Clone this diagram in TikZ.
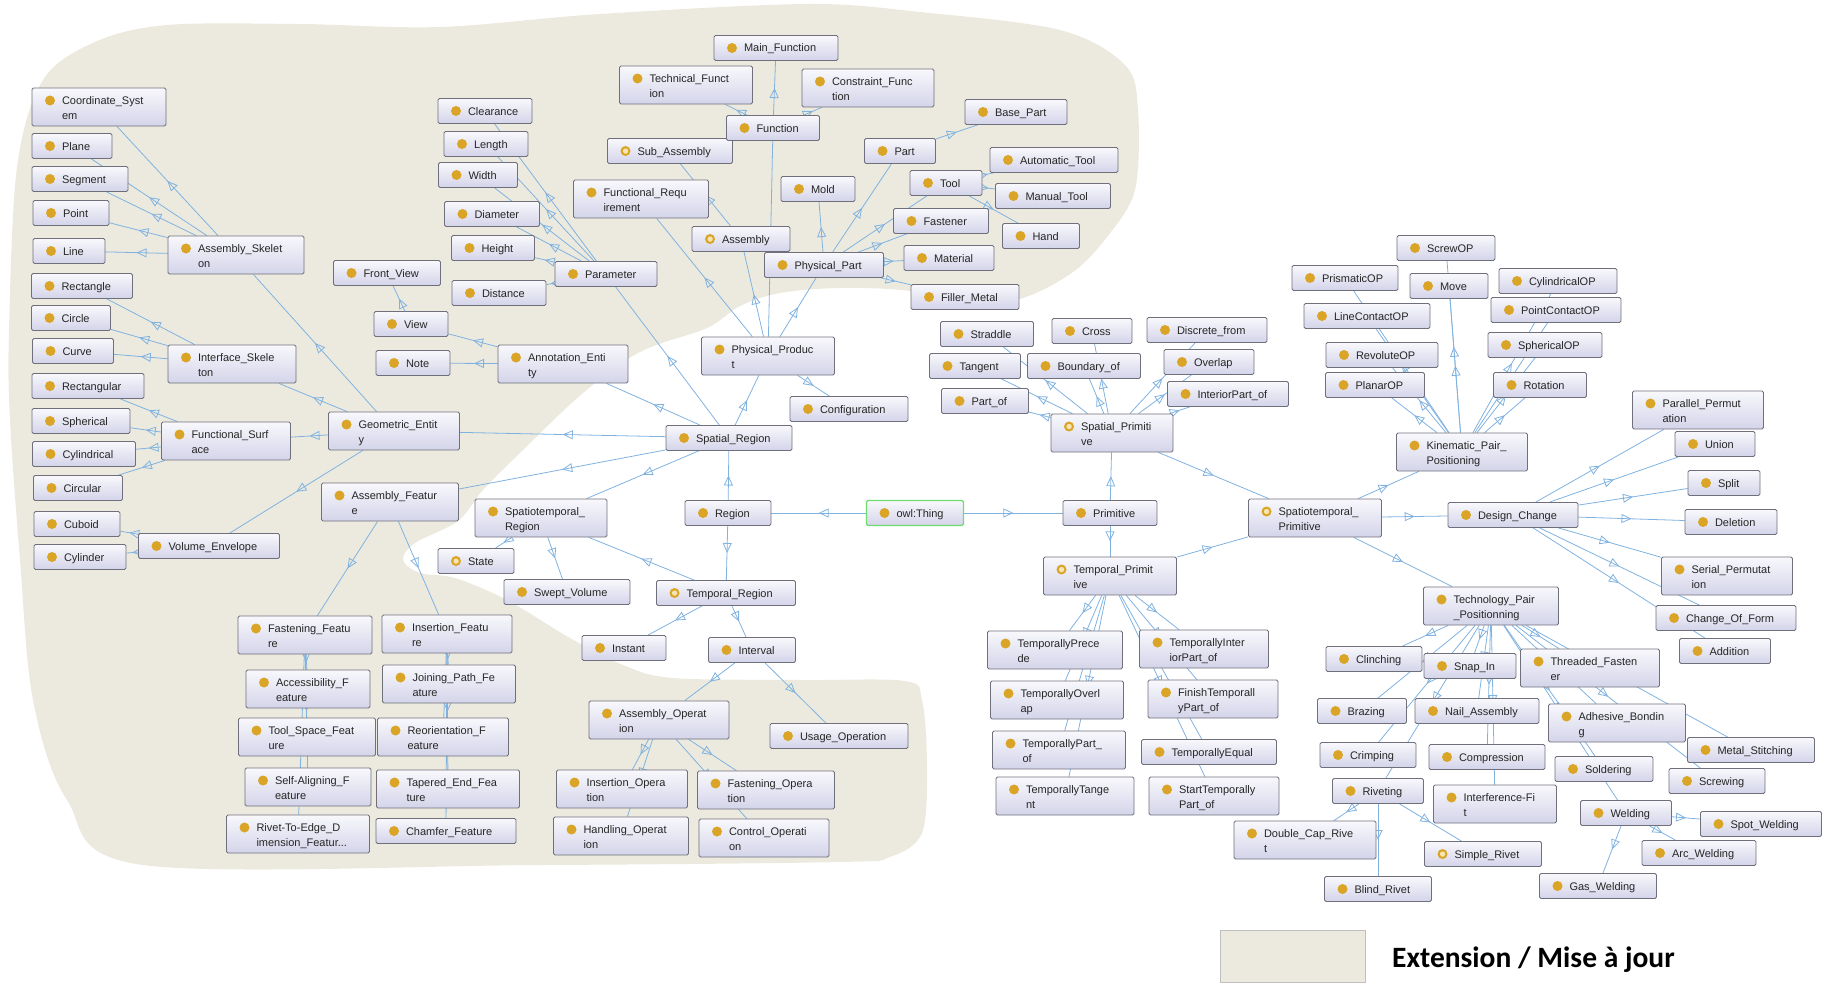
\documentclass[tikz,border=0pt]{standalone}
\usepackage{fontspec}
\setmainfont{Liberation Sans}
\newfontfamily\legendfont{Carlito}
\usetikzlibrary{arrows.meta, decorations.markings}
\definecolor{blob_beige}{RGB}{236,234,223}
\definecolor{box_top}{RGB}{248,248,252}
\definecolor{box_bot}{RGB}{212,212,234}
\definecolor{box_edge}{RGB}{112,112,124}
\definecolor{cls_dot}{RGB}{218,165,38}
\definecolor{cls_core}{RGB}{246,228,178}
\definecolor{isa_blue}{RGB}{128,178,224}
\definecolor{root_green}{RGB}{110,220,110}
\pgfdeclarelayer{blob}
\pgfdeclarelayer{links}
\pgfsetlayers{blob,links,main}

\begin{document}
\begin{tikzpicture}[x=1pt, y=-1pt, font=\fontsize{11}{14.5}\selectfont,
      cls/.style ={draw=box_edge, line width=0.8pt, rounded corners=1.5pt, top color=box_top, bottom color=box_bot,
                   text=black!85, align=left, inner xsep=0pt, inner ysep=0pt, text width=#1pt,
                   text height=12pt, text depth=4pt, minimum height=25pt,
                   execute at begin node={\leftskip=30pt\hyphenpenalty=10000\exhyphenpenalty=10000},
                   path picture={\fill[cls_dot] ([shift={(18pt,-12.5pt)}]path picture bounding box.north west) circle (5pt);}},
      dcls/.style={cls=#1,
                   path picture={\fill[cls_dot] ([shift={(18pt,-12.5pt)}]path picture bounding box.north west) circle (5pt);
                                 \fill[cls_core] ([shift={(15.5pt,-10pt)}]path picture bounding box.north west) rectangle ++(5pt,-5pt);}},
      root/.style={cls=#1, draw=root_green, line width=1.2pt},
      two/.style ={text depth=17pt, minimum height=38pt},
      isa/.style ={draw=isa_blue, line width=0.8pt,
                   postaction={decorate, decoration={markings,
                     mark=at position 0.5 with {\arrow[isa_blue, line width=0.8pt]{Triangle[open, length=10pt, width=9pt]}}}}}]
    \useasboundingbox (0,0) rectangle (1822,982);
    % --- the extended part of the ontology ---
    \begin{pgfonlayer}{blob}
      \fill[blob_beige] plot[smooth cycle, tension=0.55] coordinates {
        (167,25) (300,24) (440,27) (600,14) (807,4) (920,12) (1060,30) (1125,65) (1138,110) (1135,190)
        (1107,237) (1073,272) (1023,298) (965,306) (910,291) (840,288) (780,293) (740,306) (707,328)
        (640,352) (583,393) (523,450) (483,490) (458,521) (415,543) (403,560) (420,573) (455,578)
        (507,600) (570,638) (623,665) (673,678) (800,680) (905,681) (922,700) (927,767) (922,833)
        (890,857) (840,862) (540,865) (143,865) (67,800) (33,700) (20,560) (10,420) (9,330) (17,167)
        (43,80) (95,42)};
    \end{pgfonlayer}
    % --- root and top classes ---
    \node[root=97]  (owl)       at (915,513)  {owl:Thing};
    \node[cls=86]   (region)    at (728,513)  {Region};
    \node[cls=94]   (primitive) at (1110,513) {Primitive};
    \node[cls=126]  (spatreg)   at (729,438)  {Spatial\_Region};
    \node[dcls=139] (tempreg)   at (726,593)  {Temporal\_Region};
    \node[cls=132, two] (streg) at (541,518)  {Spatiotemporal\_\\Region};
    \node[dcls=76]  (state)     at (476,561)  {State};
    \node[cls=126]  (swept)     at (567,592)  {Swept\_Volume};
    \node[cls=84]   (instant)   at (624,648)  {Instant};
    \node[cls=87]   (interval)  at (752,650)  {Interval};
    % --- operations ---
    \node[cls=140, two] (asmop)  at (659,720) {Assembly\_Operat\\ion};
    \node[cls=138]      (usageop) at (839,736) {Usage\_Operation};
    \node[cls=131, two] (insop)  at (622,789) {Insertion\_Opera\\tion};
    \node[cls=137, two] (fastop) at (766,790) {Fastening\_Opera\\tion};
    \node[cls=135, two] (handop) at (621,836) {Handling\_Operat\\ion};
    \node[cls=130, two] (ctrlop) at (764,838) {Control\_Operati\\on};
    % --- product side ---
    \node[cls=133, two] (physprod) at (768,356) {Physical\_Produc\\t};
    \node[cls=118]  (config)    at (849,409)  {Configuration};
    \node[cls=135, two] (funcreq) at (641,199) {Functional\_Requ\\irement};
    \node[dcls=98]  (assembly)  at (741,239)  {Assembly};
    \node[dcls=125] (subasm)    at (670,151)  {Sub\_Assembly};
    \node[cls=93]   (function)  at (773,128)  {Function};
    \node[cls=124]  (mainfn)    at (776,48)   {Main\_Function};
    \node[cls=133, two] (techfn)   at (686,85) {Technical\_Funct\\ion};
    \node[cls=132, two] (constrfn) at (868,88) {Constraint\_Func\\tion};
    \node[cls=119]  (physpart)  at (824,265)  {Physical\_Part};
    \node[cls=74]   (mold)      at (818,189)  {Mold};
    \node[cls=71]   (part)      at (900,151)  {Part};
    \node[cls=102]  (basepart)  at (1016,112) {Base\_Part};
    \node[cls=72]   (tool)      at (946,183)  {Tool};
    \node[cls=128]  (autotool)  at (1054,160) {Automatic\_Tool};
    \node[cls=115]  (manualtool) at (1053,196) {Manual\_Tool};
    \node[cls=77]   (hand)      at (1041,236) {Hand};
    \node[cls=95]   (fastener)  at (941,221)  {Fastener};
    \node[cls=90]   (material)  at (949,258)  {Material};
    \node[cls=108]  (filler)    at (965,297)  {Filler\_Metal};
    % --- parameters and annotations ---
    \node[cls=102]  (parameter) at (606,274)  {Parameter};
    \node[cls=94]   (clearance) at (485,111)  {Clearance};
    \node[cls=84]   (length)    at (486,144)  {Length};
    \node[cls=79]   (width)     at (478,175)  {Width};
    \node[cls=95]   (diameter)  at (492,214)  {Diameter};
    \node[cls=83]   (height)    at (493,248)  {Height};
    \node[cls=94]   (distance)  at (499,293)  {Distance};
    \node[cls=130, two] (annot) at (563,364)  {Annotation\_Enti\\ty};
    \node[cls=107]  (frontview) at (387,273)  {Front\_View};
    \node[cls=74]   (view)      at (411,324)  {View};
    \node[cls=74]   (note)      at (413,363)  {Note};
    % --- geometry ---
    \node[cls=131, two] (geoent) at (394,431) {Geometric\_Entit\\y};
    \node[cls=136, two] (askel)  at (236,255) {Assembly\_Skelet\\on};
    \node[cls=128, two] (iskel)  at (232,364) {Interface\_Skele\\ton};
    \node[cls=129, two] (fsurf)  at (226,441) {Functional\_Surf\\ace};
    \node[cls=141]  (volenv)    at (209,546)  {Volume\_Envelope};
    \node[cls=134, two] (coord)  at (99,107)  {Coordinate\_Syst\\em};
    \node[cls=80]   (plane)     at (72,146)   {Plane};
    \node[cls=96]   (segment)   at (80,179)   {Segment};
    \node[cls=76]   (point)     at (71,213)   {Point};
    \node[cls=72]   (line)      at (69,251)   {Line};
    \node[cls=101]  (rectangle) at (82,286)   {Rectangle};
    \node[cls=79]   (circle)    at (71,318)   {Circle};
    \node[cls=81]   (curve)     at (73,351)   {Curve};
    \node[cls=112]  (rectangular) at (88,386) {Rectangular};
    \node[cls=98]   (spherical) at (81,421)   {Spherical};
    \node[cls=103]  (cylindrical) at (84,454) {Cylindrical};
    \node[cls=89]   (circular)  at (78,488)   {Circular};
    \node[cls=86]   (cuboid)    at (77,524)   {Cuboid};
    \node[cls=92]   (cylinder)  at (80,557)   {Cylinder};
    % --- assembly features ---
    \node[cls=137, two] (asmfeat)   at (390,502) {Assembly\_Featur\\e};
    \node[cls=134, two] (fastfeat)  at (305,635) {Fastening\_Featu\\re};
    \node[cls=130, two] (insfeat)   at (447,634) {Insertion\_Featu\\re};
    \node[cls=124, two] (access)    at (308,689) {Accessibility\_F\\eature};
    \node[cls=133, two] (joinpath)  at (449,684) {Joining\_Path\_Fe\\ature};
    \node[cls=137, two] (toolspace) at (307,737) {Tool\_Space\_Feat\\ure};
    \node[cls=131, two] (reorient)  at (443,737) {Reorientation\_F\\eature};
    \node[cls=126, two] (selfalign) at (308,787) {Self-Aligning\_F\\eature};
    \node[cls=143, two] (tapered)   at (448,789) {Tapered\_End\_Fea\\ture};
    \node[cls=143, two] (rivetedge) at (298,834) {Rivet-To-Edge\_D\\imension\_Featur...};
    \node[cls=140]      (chamfer)   at (446,831) {Chamfer\_Feature};
    % --- spatial primitives ---
    \node[dcls=122, two] (spatprim) at (1112,433) {Spatial\_Primiti\\ve};
    \node[cls=93]   (straddle)  at (987,334)  {Straddle};
    \node[cls=80]   (cross)     at (1092,331) {Cross};
    \node[cls=120]  (discrete)  at (1207,330) {Discrete\_from};
    \node[cls=91]   (tangent)   at (975,366)  {Tangent};
    \node[cls=113]  (boundary)  at (1084,366) {Boundary\_of};
    \node[cls=90]   (overlap)   at (1209,362) {Overlap};
    \node[cls=87]   (partof)    at (985,401)  {Part\_of};
    \node[cls=121]  (interior)  at (1228,394) {InteriorPart\_of};
    % --- temporal primitives ---
    \node[dcls=133, two] (tempprim) at (1110,576) {Temporal\_Primit\\ive};
    \node[cls=135, two] (tprecede)  at (1055,650) {TemporallyPrece\\de};
    \node[cls=129, two] (tinterior) at (1204,649) {TemporallyInter\\iorPart\_of};
    \node[cls=133, two] (toverlap)  at (1057,700) {TemporallyOverl\\ap};
    \node[cls=130, two] (tfinish)   at (1213,699) {FinishTemporall\\yPart\_of};
    \node[cls=133, two] (tpart)     at (1059,750) {TemporallyPart\_\\of};
    \node[cls=135]      (tequal)    at (1209,752) {TemporallyEqual};
    \node[cls=138, two] (ttangent)  at (1065,796) {TemporallyTange\\nt};
    \node[cls=130, two] (tstart)    at (1214,796) {StartTemporally\\Part\_of};
    % --- spatiotemporal primitives ---
    \node[dcls=133, two] (stprim)    at (1315,518) {Spatiotemporal\_\\Primitive};
    \node[cls=131, two]  (kinematic) at (1462,452) {Kinematic\_Pair\_\\Positioning};
    \node[cls=106]  (prismatic)   at (1345,278) {PrismaticOP};
    \node[cls=126]  (linecontact) at (1367,316) {LineContactOP};
    \node[cls=112]  (revolute)    at (1382,355) {RevoluteOP};
    \node[cls=99]   (planar)      at (1375,385) {PlanarOP};
    \node[cls=98]   (screwop)     at (1446,248) {ScrewOP};
    \node[cls=78]   (move)        at (1449,286) {Move};
    \node[cls=118]  (cylop)       at (1558,281) {CylindricalOP};
    \node[cls=130]  (pointcontact) at (1556,310) {PointContactOP};
    \node[cls=114]  (sphericalop) at (1545,345) {SphericalOP};
    \node[cls=93]   (rotation)    at (1540,385) {Rotation};
    \node[cls=130]  (designch)    at (1513,515) {Design\_Change};
    \node[cls=131, two] (parallel) at (1698,410) {Parallel\_Permut\\ation};
    \node[cls=80]   (union)       at (1715,444) {Union};
    \node[cls=72]   (split)       at (1724,483) {Split};
    \node[cls=92]   (deletion)    at (1731,522) {Deletion};
    \node[cls=131, two] (serial)  at (1727,576) {Serial\_Permutat\\ion};
    \node[cls=140]  (changeform)  at (1726,618) {Change\_Of\_Form};
    \node[cls=91]   (addition)    at (1725,651) {Addition};
    % --- technology pairs ---
    \node[cls=135, two] (techpair) at (1491,606) {Technology\_Pair\\\_Positionning};
    \node[cls=96]   (clinching)   at (1374,659) {Clinching};
    \node[cls=92]   (snapin)      at (1470,666) {Snap\_In};
    \node[cls=139, two] (threaded) at (1590,668) {Threaded\_Fasten\\er};
    \node[cls=89]   (brazing)     at (1362,711) {Brazing};
    \node[cls=124]  (nail)        at (1477,711) {Nail\_Assembly};
    \node[cls=137, two] (adhesive) at (1617,723) {Adhesive\_Bondin\\g};
    \node[cls=127]  (metalstitch) at (1751,750) {Metal\_Stitching};
    \node[cls=96]   (crimping)    at (1368,755) {Crimping};
    \node[cls=116]  (compression) at (1487,757) {Compression};
    \node[cls=98]   (soldering)   at (1604,769) {Soldering};
    \node[cls=96]   (screwing)    at (1717,781) {Screwing};
    \node[cls=91]   (riveting)    at (1378,791) {Riveting};
    \node[cls=123, two] (interfit) at (1495,804) {Interference-Fi\\t};
    \node[cls=91]   (welding)     at (1626,813) {Welding};
    \node[cls=121]  (spotweld)    at (1761,824) {Spot\_Welding};
    \node[cls=142, two] (doublecap) at (1305,840) {Double\_Cap\_Rive\\t};
    \node[cls=114]  (arcweld)     at (1699,853) {Arc\_Welding};
    \node[dcls=117] (simplerivet) at (1483,854) {Simple\_Rivet};
    \node[cls=107]  (blindrivet)  at (1378,889) {Blind\_Rivet};
    \node[cls=117]  (gasweld)     at (1598,886) {Gas\_Welding};
    % --- legend ---
    \node[draw=black!25, fill=blob_beige, minimum width=145pt, minimum height=52pt, inner sep=0pt] (legbox) at (1292.5,956) {};
    \node[font=\legendfont\bfseries\fontsize{29.5}{34}\selectfont, anchor=west, inner sep=0pt] (legtext) at (1392,960) {Extension / Mise à jour};
    % --- subclass links, parent to child ---
    \begin{pgfonlayer}{links}
      \draw[isa] (owl) -- (region);
      \draw[isa] (owl) -- (primitive);
      \draw[isa] (region) -- (spatreg);
      \draw[isa] (region) -- (tempreg);
      \draw[isa] (spatreg) -- (physprod);
      \draw[isa] (spatreg) -- (parameter);
      \draw[isa] (spatreg) -- (annot);
      \draw[isa] (spatreg) -- (geoent);
      \draw[isa] (spatreg) -- (asmfeat);
      \draw[isa] (spatreg) -- (streg);
      \draw[isa] (tempreg) -- (streg);
      \draw[isa] (streg) -- (state);
      \draw[isa] (streg) -- (swept);
      \draw[isa] (tempreg) -- (instant);
      \draw[isa] (tempreg) -- (interval);
      \draw[isa] (interval) -- (asmop);
      \draw[isa] (interval) -- (usageop);
      \draw[isa] (asmop) -- (insop);
      \draw[isa] (asmop) -- (handop);
      \draw[isa] (asmop) -- (fastop);
      \draw[isa] (asmop) -- (ctrlop);
      \draw[isa] (physprod) -- (config);
      \draw[isa] (physprod) -- (funcreq);
      \draw[isa] (physprod) -- (assembly);
      \draw[isa] (assembly) -- (subasm);
      \draw[isa] (physprod) -- (function);
      \draw[isa] (function) -- (mainfn);
      \draw[isa] (function) -- (techfn);
      \draw[isa] (function) -- (constrfn);
      \draw[isa] (physprod) -- (physpart);
      \draw[isa] (physpart) -- (mold);
      \draw[isa] (physpart) -- (part);
      \draw[isa] (physpart) -- (tool);
      \draw[isa] (physpart) -- (fastener);
      \draw[isa] (physpart) -- (material);
      \draw[isa] (physpart) -- (filler);
      \draw[isa] (part) -- (basepart);
      \draw[isa] (tool) -- (autotool);
      \draw[isa] (tool) -- (manualtool);
      \draw[isa] (tool) -- (hand);
      \draw[isa] (parameter) -- (clearance);
      \draw[isa] (parameter) -- (length);
      \draw[isa] (parameter) -- (width);
      \draw[isa] (parameter) -- (diameter);
      \draw[isa] (parameter) -- (height);
      \draw[isa] (parameter) -- (distance);
      \draw[isa] (annot) -- (view);
      \draw[isa] (annot) -- (note);
      \draw[isa] (view) -- (frontview);
      \draw[isa] (geoent) -- (askel);
      \draw[isa] (geoent) -- (iskel);
      \draw[isa] (geoent) -- (fsurf);
      \draw[isa] (geoent) -- (volenv);
      \draw[isa] (askel) -- (coord);
      \draw[isa] (askel) -- (plane);
      \draw[isa] (askel) -- (segment);
      \draw[isa] (askel) -- (point);
      \draw[isa] (askel) -- (line);
      \draw[isa] (iskel) -- (rectangle);
      \draw[isa] (iskel) -- (circle);
      \draw[isa] (iskel) -- (curve);
      \draw[isa] (fsurf) -- (rectangular);
      \draw[isa] (fsurf) -- (spherical);
      \draw[isa] (fsurf) -- (cylindrical);
      \draw[isa] (fsurf) -- (circular);
      \draw[isa] (volenv) -- (cuboid);
      \draw[isa] (volenv) -- (cylinder);
      \draw[isa] (asmfeat) -- (fastfeat);
      \draw[isa] (asmfeat) -- (insfeat);
      \draw[isa] (fastfeat) -- (access);
      \draw[isa] (fastfeat) -- (toolspace);
      \draw[isa] (fastfeat) -- (selfalign);
      \draw[isa] (fastfeat) -- (rivetedge);
      \draw[isa] (insfeat) -- (joinpath);
      \draw[isa] (insfeat) -- (reorient);
      \draw[isa] (insfeat) -- (tapered);
      \draw[isa] (insfeat) -- (chamfer);
      \draw[isa] (primitive) -- (spatprim);
      \draw[isa] (primitive) -- (tempprim);
      \draw[isa] (spatprim) -- (straddle);
      \draw[isa] (spatprim) -- (cross);
      \draw[isa] (spatprim) -- (discrete);
      \draw[isa] (spatprim) -- (tangent);
      \draw[isa] (spatprim) -- (boundary);
      \draw[isa] (spatprim) -- (overlap);
      \draw[isa] (spatprim) -- (partof);
      \draw[isa] (spatprim) -- (interior);
      \draw[isa] (spatprim) -- (stprim);
      \draw[isa] (tempprim) -- (stprim);
      \draw[isa] (tempprim) -- (tprecede);
      \draw[isa] (tempprim) -- (tinterior);
      \draw[isa] (tempprim) -- (toverlap);
      \draw[isa] (tempprim) -- (tfinish);
      \draw[isa] (tempprim) -- (tpart);
      \draw[isa] (tempprim) -- (tequal);
      \draw[isa] (tempprim) -- (ttangent);
      \draw[isa] (tempprim) -- (tstart);
      \draw[isa] (stprim) -- (kinematic);
      \draw[isa] (stprim) -- (designch);
      \draw[isa] (stprim) -- (techpair);
      \draw[isa] (kinematic) -- (prismatic);
      \draw[isa] (kinematic) -- (linecontact);
      \draw[isa] (kinematic) -- (revolute);
      \draw[isa] (kinematic) -- (planar);
      \draw[isa] (kinematic) -- (screwop);
      \draw[isa] (kinematic) -- (move);
      \draw[isa] (kinematic) -- (cylop);
      \draw[isa] (kinematic) -- (pointcontact);
      \draw[isa] (kinematic) -- (sphericalop);
      \draw[isa] (kinematic) -- (rotation);
      \draw[isa] (designch) -- (parallel);
      \draw[isa] (designch) -- (union);
      \draw[isa] (designch) -- (split);
      \draw[isa] (designch) -- (deletion);
      \draw[isa] (designch) -- (serial);
      \draw[isa] (designch) -- (changeform);
      \draw[isa] (designch) -- (addition);
      \draw[isa] (techpair) -- (clinching);
      \draw[isa] (techpair) -- (snapin);
      \draw[isa] (techpair) -- (threaded);
      \draw[isa] (techpair) -- (brazing);
      \draw[isa] (techpair) -- (nail);
      \draw[isa] (techpair) -- (adhesive);
      \draw[isa] (techpair) -- (metalstitch);
      \draw[isa] (techpair) -- (crimping);
      \draw[isa] (techpair) -- (compression);
      \draw[isa] (techpair) -- (soldering);
      \draw[isa] (techpair) -- (screwing);
      \draw[isa] (techpair) -- (riveting);
      \draw[isa] (techpair) -- (interfit);
      \draw[isa] (techpair) -- (welding);
      \draw[isa] (riveting) -- (doublecap);
      \draw[isa] (riveting) -- (blindrivet);
      \draw[isa] (riveting) -- (simplerivet);
      \draw[isa] (welding) -- (spotweld);
      \draw[isa] (welding) -- (arcweld);
      \draw[isa] (welding) -- (gasweld);
    \end{pgfonlayer}
\end{tikzpicture}
\end{document}
